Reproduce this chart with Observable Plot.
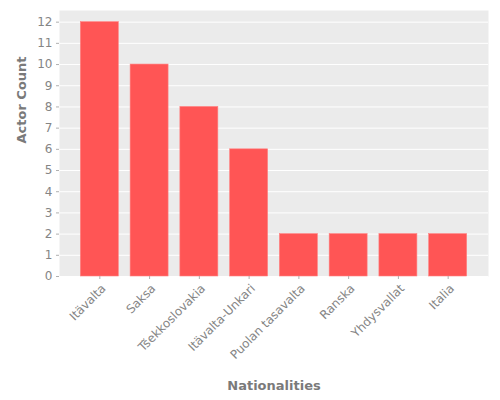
<!DOCTYPE html>
<html>
<head>
<meta charset="utf-8">
<script src="https://cdn.jsdelivr.net/npm/d3@7"></script>
<script src="https://cdn.jsdelivr.net/npm/@observablehq/plot@0.6"></script>
<style>
  html, body { margin: 0; padding: 0; background: white; }
  #chart svg { display: block; }
</style>
</head>
<body>
<div id="chart"></div>
<script>
const nationalities = ["Itävalta", "Saksa", "Tšekkoslovakia", "Itävalta-Unkari", "Puolan tasavalta", "Ranska", "Yhdysvallat", "Italia"];
const counts = [12, 10, 8, 6, 2, 2, 2, 2];
const yTicks = [0, 1, 2, 3, 4, 5, 6, 7, 8, 9, 10, 11, 12];

const data = nationalities.map((n, i) => ({nationality: n, count: counts[i]}));
const textColor = "#858585";
const titleColor = "#7a7a7a";

const chart = Plot.plot({
  width: 500,
  height: 400,
  marginLeft: 59,
  marginRight: 12,
  marginTop: 10,
  marginBottom: 124,
  style: {fontFamily: "DejaVu Sans", fontSize: "11px", color: textColor, background: "white"},
  x: {domain: nationalities, paddingInner: 0.237, paddingOuter: 0.429, round: false},
  y: {domain: [0, 12.55]},
  marks: [
    Plot.frame({fill: "#ebebeb", stroke: null}),
    Plot.gridY(yTicks, {stroke: "white", strokeOpacity: 1, strokeWidth: 1}),
    Plot.barY(data, {x: "nationality", y: "count", fill: "#ff5555", stroke: "#ff8080", strokeWidth: 0.6}),
    Plot.axisY(yTicks, {
      tickSize: 3, tickPadding: 4, stroke: "#b0b0b0", fill: textColor, fontSize: 12,
      label: null
    }),
    Plot.axisX({
      tickSize: 3, stroke: "#b0b0b0", tickFormat: () => "", label: null
    }),
    Plot.axisX({
      tickSize: 0, tickPadding: 6, tickRotate: -45, fill: textColor, fontSize: 12,
      label: null, dx: 4, dy: 4
    }),
    Plot.text(["Actor Count"], {
      frameAnchor: "left", dx: -38, rotate: -90, fontSize: 13, fontWeight: "bold", fill: titleColor
    }),
    Plot.text(["Nationalities"], {
      frameAnchor: "bottom", dy: 113, fontSize: 13, fontWeight: "bold", fill: titleColor
    })
  ]
});
document.getElementById("chart").append(chart);
</script>
</body>
</html>
